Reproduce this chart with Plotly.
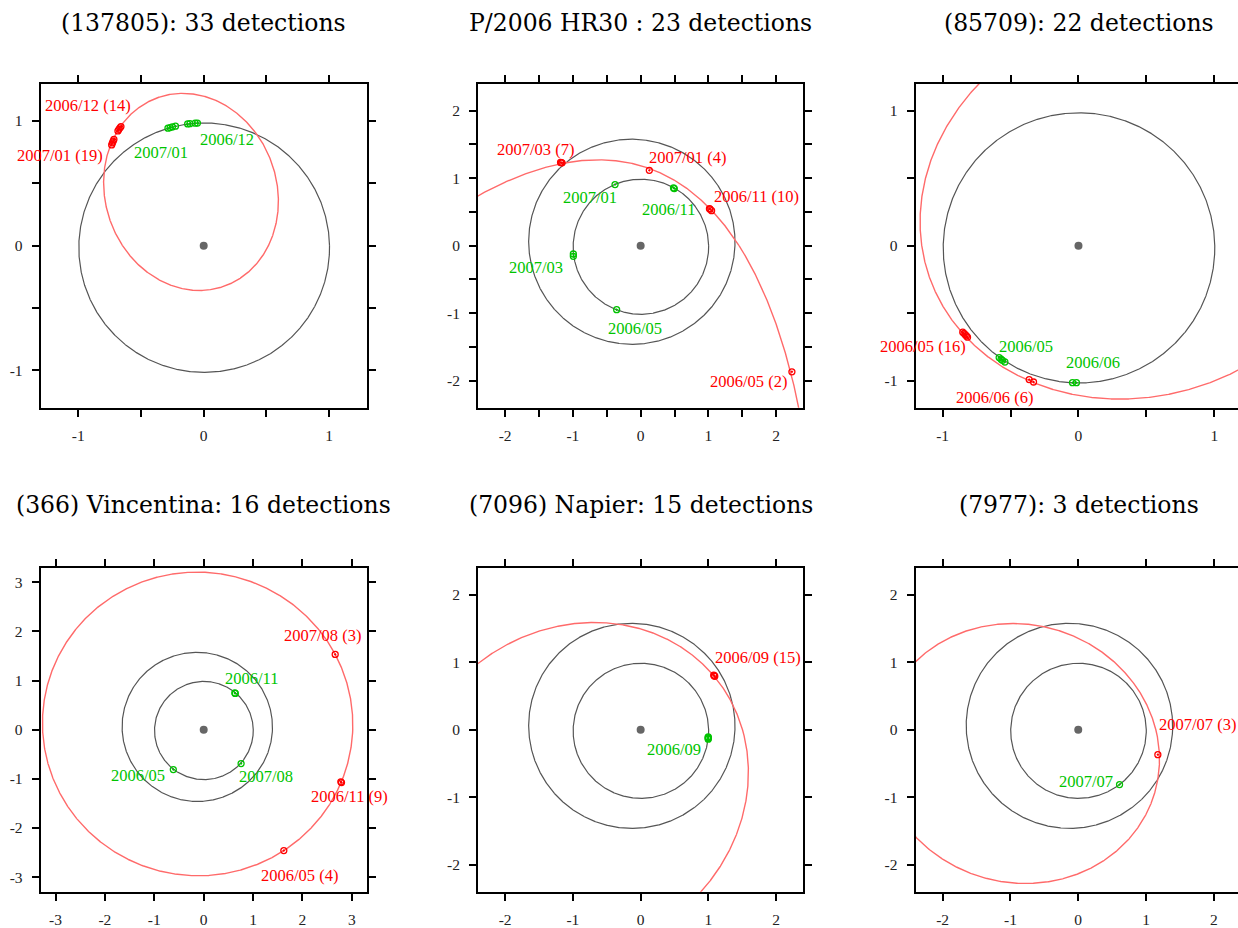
import numpy as np
import plotly.graph_objects as go

# ---------------- data ----------------
titles = ["(137805): 33 detections", "P/2006 HR30 : 23 detections", "(85709): 22 detections",
          "(366) Vincentina: 16 detections", "(7096) Napier: 15 detections", "(7977): 3 detections"]

# planetary orbits: semi-major axis (AU), eccentricity, longitude of perihelion (deg)
earth_elems = [1.0, 0.0167, 102.9]
mars_elems = [1.5237, 0.0934, 336.0]
has_mars = [False, True, False, True, True, True]

# points read along each object's orbit (ecliptic x, y in AU)
orb1_x = [-0.189, 0.419, 0.597, 0.518, -0.029, -0.647, -0.803, -0.797, -0.734, -0.664]
orb1_y = [1.227, 0.892, 0.373, 0.000, -0.357, 0.000, 0.520, 0.588, 0.808, 0.952]
orb2_x = [-2.398, -1.170, -0.698, 0.128, 1.022, 1.170, 1.370, 1.661, 1.907, 2.128, 2.232, 2.325]
orb2_y = [0.737, 1.229, 1.268, 1.115, 0.541, 0.394, 0.190, -0.392, -0.982, -1.572, -1.867, -2.383]
orb3_x = [-0.736, -1.026, -1.161, -1.119, -0.842, -0.351, 0.312, 1.171]
orb3_y = [1.200, 0.763, 0.197, -0.221, -0.652, -0.996, -1.144, -0.922]
orb4_x = [-0.142, -0.074, -3.264, 3.020, 2.662, 2.784, 1.622]
orb4_y = [3.209, -2.973, 0.203, 0.068, 1.534, -1.068, -2.459]
orb5_x = [-2.370, -1.879, -1.386, -0.649, -0.305, 0.333, 0.826, 1.096, 1.366, 1.538, 1.587, 1.538, 1.366, 1.170, 0.914]
orb5_y = [1.006, 1.300, 1.496, 1.595, 1.570, 1.349, 1.031, 0.795, 0.392, -0.147, -0.589, -1.130, -1.670, -2.013, -2.381]
orb6_x = [-2.383, -0.948, -0.482, 0.746, 1.174, 1.174, 1.140, 1.018, 0.723, 0.230, -0.261, -0.850, -2.383]
orb6_y = [0.999, 1.574, 1.535, 0.787, -0.369, -0.493, -0.788, -1.280, -1.722, -2.043, -2.165, -2.253, -1.638]

# detections of the object (red)
det1_x = [-0.660, -0.668, -0.676, -0.684, -0.716, -0.722, -0.728, -0.734]
det1_y = [0.955, 0.945, 0.933, 0.920, 0.852, 0.838, 0.824, 0.808]
det2_x = [-1.182, -1.170, -1.160, 0.128, 1.015, 1.025, 1.047, 2.232]
det2_y = [1.232, 1.229, 1.226, 1.115, 0.548, 0.541, 0.518, -1.867]
det3_x = [-0.852, -0.843, -0.834, -0.825, -0.817, -0.363, -0.331]
det3_y = [-0.640, -0.649, -0.659, -0.668, -0.677, -0.991, -1.009]
det4_x = [2.662, 2.776, 2.790, 1.622]
det4_y = [1.534, -1.060, -1.075, -2.459]
det5_x = [1.078, 1.086, 1.094]
det5_y = [0.808, 0.800, 0.792]
det6_x = [1.174]
det6_y = [-0.369]

# Earth positions at the detection epochs (green)
earth1_x = [-0.285, -0.268, -0.250, -0.225, -0.128, -0.110, -0.068, -0.050]
earth1_y = [0.942, 0.947, 0.952, 0.958, 0.976, 0.978, 0.982, 0.983]
earth2_x = [-0.378, 0.485, 0.497, -0.993, -0.993, -0.354]
earth2_y = [0.904, 0.855, 0.845, -0.123, -0.157, -0.948]
earth3_x = [-0.584, -0.570, -0.560, -0.542, -0.044, -0.015]
earth3_y = [-0.828, -0.840, -0.849, -0.861, -1.014, -1.014]
earth4_x = [0.630, 0.640, 0.757, -0.615]
earth4_y = [0.748, 0.740, -0.689, -0.811]
earth5_x = [0.997, 0.997, 0.997, 0.997]
earth5_y = [-0.105, -0.117, -0.129, -0.140]
earth6_x = [0.609]
earth6_y = [-0.812]

# labels
rlab1 = ["2006/12 (14)", "2007/01 (19)"]; rlab1_x = [-0.923, -1.149]; rlab1_y = [1.120, 0.720]
glab1 = ["2007/01", "2006/12"]; glab1_x = [-0.341, 0.184]; glab1_y = [0.747, 0.853]
rlab2 = ["2007/03 (7)", "2007/01 (4)", "2006/11 (10)", "2006/05 (2)"]
rlab2_x = [-1.548, 0.688, 1.710, 1.587]; rlab2_y = [1.425, 1.302, 0.722, -2.010]
glab2 = ["2007/01", "2006/11", "2007/03", "2006/05"]
glab2_x = [-0.747, 0.408, -1.543, -0.079]; glab2_y = [0.713, 0.541, -0.319, -1.229]
rlab3 = ["2006/05 (16)", "2006/06 (6)"]; rlab3_x = [-1.148, -0.621]; rlab3_y = [-0.743, -1.124]
glab3 = ["2006/05", "2006/06"]; glab3_x = [-0.383, 0.108]; glab3_y = [-0.743, -0.866]
rlab4 = ["2007/08 (3)", "2006/11 (9)", "2006/05 (4)"]
rlab4_x = [2.412, 2.953, 1.932]; rlab4_y = [1.926, -1.365, -2.973]
glab4 = ["2006/11", "2006/05", "2007/08"]
glab4_x = [0.959, -1.338, 1.264]; glab4_y = [1.047, -0.932, -0.946]
rlab5 = ["2006/09 (15)"]; rlab5_x = [1.735]; rlab5_y = [1.069]
glab5 = ["2006/09"]; glab5_x = [0.496]; glab5_y = [-0.295]
rlab6 = ["2007/07 (3)"]; rlab6_x = [1.764]; rlab6_y = [0.074]
glab6 = ["2007/07"]; glab6_x = [0.108]; glab6_y = [-0.763]

# axes: ranges and ticks
x_ranges = [[-1.3, 1.3], [-2.4, 2.4], [-1.2, 1.1745], [-3.3, 3.3], [-2.4, 2.4], [-2.4, 2.356]]
y_ranges = [[-1.3, 1.3], [-2.4, 2.4], [-1.2, 1.2], [-3.3, 3.3], [-2.4, 2.4], [-2.4, 2.4]]
tick_vals = [
    [-1, -0.5, 0, 0.5, 1],
    [-2, -1.5, -1, -0.5, 0, 0.5, 1, 1.5, 2],
    [-1, -0.5, 0, 0.5, 1],
    [-3, -2, -1, 0, 1, 2, 3],
    [-2, -1, 0, 1, 2],
    [-2, -1, 0, 1, 2],
]
tick_text = [
    ["-1", "", "0", "", "1"],
    ["-2", "", "-1", "", "0", "", "1", "", "2"],
    ["-1", "", "0", "", "1"],
    ["-3", "-2", "-1", "0", "1", "2", "3"],
    ["-2", "-1", "0", "1", "2"],
    ["-2", "-1", "0", "1", "2"],
]

orbits = [(orb1_x, orb1_y), (orb2_x, orb2_y), (orb3_x, orb3_y),
          (orb4_x, orb4_y), (orb5_x, orb5_y), (orb6_x, orb6_y)]
dets = [(det1_x, det1_y), (det2_x, det2_y), (det3_x, det3_y),
        (det4_x, det4_y), (det5_x, det5_y), (det6_x, det6_y)]
earths = [(earth1_x, earth1_y), (earth2_x, earth2_y), (earth3_x, earth3_y),
          (earth4_x, earth4_y), (earth5_x, earth5_y), (earth6_x, earth6_y)]
rlabs = [(rlab1, rlab1_x, rlab1_y), (rlab2, rlab2_x, rlab2_y), (rlab3, rlab3_x, rlab3_y),
         (rlab4, rlab4_x, rlab4_y), (rlab5, rlab5_x, rlab5_y), (rlab6, rlab6_x, rlab6_y)]
glabs = [(glab1, glab1_x, glab1_y), (glab2, glab2_x, glab2_y), (glab3, glab3_x, glab3_y),
         (glab4, glab4_x, glab4_y), (glab5, glab5_x, glab5_y), (glab6, glab6_x, glab6_y)]

# ---------------- geometry helpers ----------------
PHI = np.linspace(0, 2 * np.pi, 1441)


def kepler_curve(elems):
    a, e, varpi = elems
    r = a * (1 - e * e) / (1 + e * np.cos(PHI - np.radians(varpi)))
    return r * np.cos(PHI), r * np.sin(PHI)


def conic_curve(xs, ys, rmax=40.0):
    x = np.asarray(xs, float)
    y = np.asarray(ys, float)
    M = np.column_stack([x * x, x * y, y * y, x, y])
    (A, B, C, D, E), *_ = np.linalg.lstsq(M, np.ones_like(x), rcond=None)
    c, s = np.cos(PHI), np.sin(PHI)
    a2 = A * c * c + B * c * s + C * s * s
    b1 = D * c + E * s
    disc = b1 * b1 + 4 * a2
    r = np.full(PHI.shape, np.nan)
    ok = disc >= 0
    den = b1[ok] + np.sqrt(disc[ok])
    rr = np.where(den > 0, 2.0 / np.where(den > 0, den, 1.0), np.nan)
    r[ok] = rr
    r[(r > rmax) | (r <= 0)] = np.nan
    return r * c, r * s


# ---------------- layout geometry (pixels) ----------------
W, H = 1238, 928
col_px = [(40.7, 366.7), (478.0, 803.3), (915.5, 1238.0)]
row_px = [(84.0, 410.0), (570.7, 896.7)]
title_cx = [203.7, 640.7, 1078.5]
title_cy = [22.9, 507.9]

RED = "#ff0000"
RED_ORBIT = "#ff6a6a"
GREEN = "#00c400"
GRAY = "#555555"
SERIF = "Liberation Serif"
TITLE_FONT = "DejaVu Serif"

fig = go.Figure()
annotations = []
layout_axes = {}

for i in range(6):
    n = i + 1
    xa = "x" if n == 1 else f"x{n}"
    ya = "y" if n == 1 else f"y{n}"
    row, col = divmod(i, 3)

    # planet orbits
    ex, ey = kepler_curve(earth_elems)
    fig.add_trace(go.Scatter(x=ex, y=ey, mode="lines", line=dict(color=GRAY, width=1.2),
                             xaxis=xa, yaxis=ya, hoverinfo="skip", showlegend=False))
    if has_mars[i]:
        mx, my = kepler_curve(mars_elems)
        fig.add_trace(go.Scatter(x=mx, y=my, mode="lines", line=dict(color=GRAY, width=1.2),
                                 xaxis=xa, yaxis=ya, hoverinfo="skip", showlegend=False))
    # object orbit
    ox, oy = conic_curve(*orbits[i])
    fig.add_trace(go.Scatter(x=ox, y=oy, mode="lines", line=dict(color=RED_ORBIT, width=1.4),
                             xaxis=xa, yaxis=ya, hoverinfo="skip", showlegend=False))
    # Sun
    fig.add_trace(go.Scatter(x=[0], y=[0], mode="markers", marker=dict(color="#666666", size=8),
                             xaxis=xa, yaxis=ya, hoverinfo="skip", showlegend=False))
    # Earth positions
    fig.add_trace(go.Scatter(x=earths[i][0], y=earths[i][1], mode="markers",
                             marker=dict(symbol="circle-open-dot", size=6, color=GREEN,
                                         line=dict(color=GREEN, width=1.3)),
                             xaxis=xa, yaxis=ya, showlegend=False))
    # detections
    fig.add_trace(go.Scatter(x=dets[i][0], y=dets[i][1], mode="markers",
                             marker=dict(symbol="circle-open-dot", size=6, color=RED,
                                         line=dict(color=RED, width=1.3)),
                             xaxis=xa, yaxis=ya, showlegend=False))

    for txts, lx, ly, colr in [(*rlabs[i], RED), (*glabs[i], GREEN)]:
        for t, px, py in zip(txts, lx, ly):
            annotations.append(dict(x=px, y=py, xref=xa, yref=ya, text=t, showarrow=False,
                                    xanchor="center", yanchor="middle",
                                    font=dict(family=SERIF, size=16.5, color=colr)))

    x0, x1 = col_px[col]
    y0, y1 = row_px[row]
    xdom = [x0 / W, min(x1 / W, 1.0)]
    ydom = [1 - y1 / H, 1 - y0 / H]
    right_cut = col == 2
    common = dict(showgrid=False, zeroline=False, showline=True, linecolor="black", linewidth=2,
                  ticks="outside", ticklen=7, tickwidth=1.5, tickcolor="black",
                  tickfont=dict(family=SERIF, size=15.5, color="#222222"), fixedrange=True)
    layout_axes["xaxis" if n == 1 else f"xaxis{n}"] = dict(
        common, domain=xdom, range=x_ranges[i], anchor=ya, mirror="ticks",
        tickmode="array", tickvals=tick_vals[i], ticktext=tick_text[i], ticklabelstandoff=6)
    layout_axes["yaxis" if n == 1 else f"yaxis{n}"] = dict(
        common, domain=ydom, range=y_ranges[i], anchor=xa,
        mirror=False if right_cut else "ticks",
        tickmode="array", tickvals=tick_vals[i], ticktext=tick_text[i], ticklabelstandoff=6)

    annotations.append(dict(x=title_cx[col] / W, y=1 - title_cy[row] / H, xref="paper", yref="paper",
                            text=titles[i], showarrow=False, xanchor="center", yanchor="middle",
                            font=dict(family=TITLE_FONT, size=23.5, color="black")))

fig.update_layout(width=W, height=H, autosize=False, margin=dict(l=0, r=0, t=0, b=0),
                  paper_bgcolor="white", plot_bgcolor="white", showlegend=False,
                  annotations=annotations, **layout_axes)

post = ("var gd=document.getElementById('{plot_id}');"
        "document.documentElement.style.margin='0';document.documentElement.style.overflow='hidden';"
        "document.body.style.margin='0';document.body.style.padding='0';document.body.style.overflow='hidden';"
        "gd.style.position='fixed';gd.style.left='0px';gd.style.top='0px';")
fig.write_html("out.html", config={"displayModeBar": False}, post_script=post)
